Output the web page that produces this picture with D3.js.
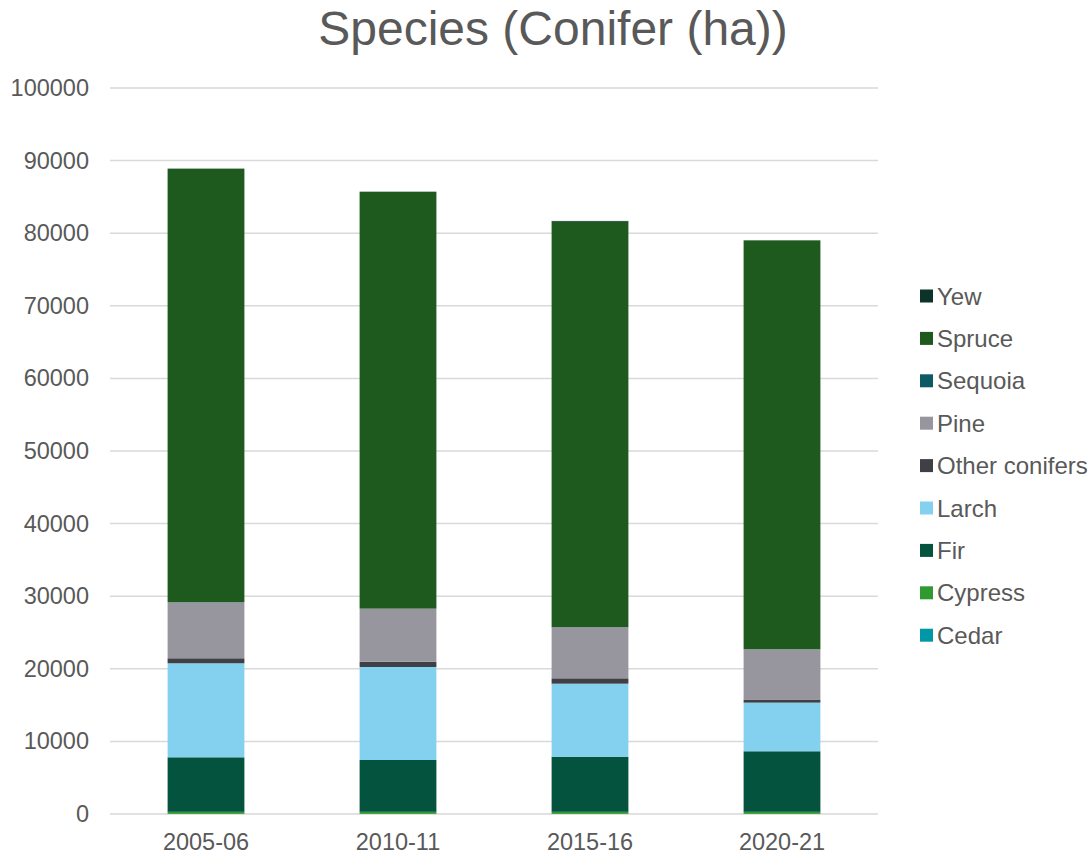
<!DOCTYPE html>
<html>
<head>
<meta charset="utf-8">
<script src="https://cdn.jsdelivr.net/npm/d3@7"></script>
<style>
  html, body { margin: 0; padding: 0; background: #ffffff; }
  svg { display: block; font-family: "Liberation Sans", Arial, sans-serif; }
</style>
</head>
<body>
<svg id="chart" width="1089" height="854"></svg>
<script>
// Survey years
const periods = ["2005-06", "2010-11", "2015-16", "2020-21"];

// Conifer area by species (ha), stacked bottom to top
const cedar         = [20, 20, 20, 20];
const cypress       = [280, 280, 280, 280];
const fir           = [7510, 7140, 7590, 8340];
const larch         = [12950, 12810, 10060, 6700];
const otherConifers = [690, 730, 740, 370];
const pine          = [7710, 7300, 7030, 6980];
const sequoia       = [10, 10, 10, 10];
const spruce        = [59700, 57400, 55850, 56300];
const yew           = [30, 30, 110, 30];

const yTicks = [0, 10000, 20000, 30000, 40000, 50000, 60000, 70000, 80000, 90000, 100000];

const seriesList = [
  { name: "Cedar",          values: cedar,         color: "#0097a7" },
  { name: "Cypress",        values: cypress,       color: "#2e9a2f" },
  { name: "Fir",            values: fir,           color: "#03533f" },
  { name: "Larch",          values: larch,         color: "#83d1ef" },
  { name: "Other conifers", values: otherConifers, color: "#3f3f46" },
  { name: "Pine",           values: pine,          color: "#97969e" },
  { name: "Sequoia",        values: sequoia,       color: "#0d5964" },
  { name: "Spruce",         values: spruce,        color: "#1e591d" },
  { name: "Yew",            values: yew,           color: "#0b3327" }
];

const rows = periods.map((p, i) => {
  const r = { period: p };
  seriesList.forEach(s => { r[s.name] = s.values[i]; });
  return r;
});

const svg = d3.select("#chart");
const plot = { left: 110, right: 878, top: 88, bottom: 814 };

const x = d3.scaleBand()
  .domain(periods)
  .range([plot.left, plot.right])
  .paddingInner(0.6)
  .paddingOuter(0.3);

const y = d3.scaleLinear()
  .domain([0, 100000])
  .range([plot.bottom, plot.top]);

// Gridlines
svg.append("g")
  .selectAll("line")
  .data(yTicks)
  .join("line")
  .attr("x1", plot.left)
  .attr("x2", plot.right)
  .attr("y1", d => y(d))
  .attr("y2", d => y(d))
  .attr("stroke", "#d9d9d9")
  .attr("stroke-width", 1.5);

// Y axis labels
const yAxis = d3.axisLeft(y).tickValues(yTicks).tickSize(0).tickPadding(0).tickFormat(d3.format("d"));
svg.append("g")
  .attr("transform", `translate(${plot.left - 21},0)`)
  .call(yAxis)
  .call(g => g.select(".domain").remove())
  .call(g => g.selectAll("text")
    .attr("fill", "#595959")
    .attr("font-size", 23.5)
    .attr("font-family", "Liberation Sans, Arial, sans-serif"));

// Stacked bars
const stack = d3.stack().keys(seriesList.map(s => s.name));
const stacked = stack(rows);

svg.append("g")
  .selectAll("g")
  .data(stacked)
  .join("g")
  .attr("fill", (d, i) => seriesList[i].color)
  .selectAll("rect")
  .data(d => d)
  .join("rect")
  .attr("x", d => x(d.data.period))
  .attr("width", x.bandwidth())
  .attr("y", d => y(d[1]))
  .attr("height", d => Math.max(0, y(d[0]) - y(d[1])));

// X axis labels
const xAxis = d3.axisBottom(x).tickSize(0).tickPadding(0);
svg.append("g")
  .attr("transform", `translate(0,${plot.bottom + 19})`)
  .call(xAxis)
  .call(g => g.select(".domain").remove())
  .call(g => g.selectAll("text")
    .attr("fill", "#595959")
    .attr("font-size", 23.5)
    .attr("dy", "0.71em")
    .attr("font-family", "Liberation Sans, Arial, sans-serif"));

// Title
svg.append("text")
  .attr("x", 553)
  .attr("y", 45)
  .attr("text-anchor", "middle")
  .attr("fill", "#595959")
  .attr("font-size", 48)
  .text("Species (Conifer (ha))");

// Legend (top entry is the top of the stack)
const legendItems = seriesList.slice().reverse();
const legend = svg.append("g")
  .selectAll("g")
  .data(legendItems)
  .join("g")
  .attr("transform", (d, i) => `translate(920,${296 + i * 42.4})`);

legend.append("rect")
  .attr("x", 0)
  .attr("y", -6.5)
  .attr("width", 13)
  .attr("height", 13)
  .attr("fill", d => d.color);

legend.append("text")
  .attr("x", 17)
  .attr("y", 0)
  .attr("dy", "0.36em")
  .attr("fill", "#595959")
  .attr("font-size", 24)
  .text(d => d.name);
</script>
</body>
</html>
